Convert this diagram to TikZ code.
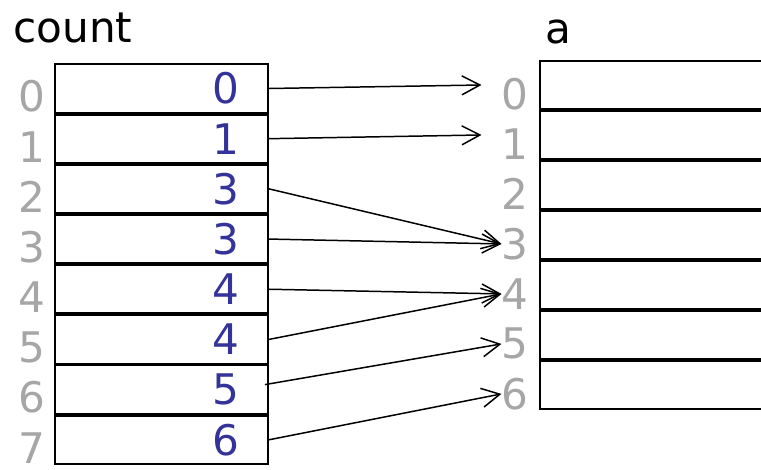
\documentclass[tikz,border=0pt]{standalone}
\usepackage{fontspec}
\setmainfont{DejaVu Sans}
\usetikzlibrary{positioning,arrows.meta}

\definecolor{idxgray}{RGB}{166,166,166}
\definecolor{valblue}{RGB}{51,51,153}

\tikzset{
  cell/.style={draw, line width=1.1pt, minimum width=4.26cm, minimum height=0.965cm,
    text width=3.1cm, inner xsep=0.58cm, inner ysep=0pt, align=right,
    text=valblue, font=\fontsize{24}{29}\selectfont},
  slot/.style={draw, line width=1.1pt, minimum width=6cm, minimum height=0.961cm, inner sep=0pt},
  idx/.style={inner sep=0pt, text=idxgray, font=\fontsize{24}{29}\selectfont},
  title/.style={inner sep=0pt, font=\fontsize{24}{29}\selectfont},
  >={Straight Barb[length=0.36cm,width=0.38cm]},
}

\begin{document}
\begin{tikzpicture}

            \clip (0,0) rectangle (15.22,-9.38);

            % count array
            \node[cell] (c0) at (3.23,-1.77) {0};
            \node[cell] (c1) [below=0pt of c0] {1};
            \node[cell] (c2) [below=0pt of c1] {3};
            \node[cell] (c3) [below=0pt of c2] {3};
            \node[cell] (c4) [below=0pt of c3] {4};
            \node[cell] (c5) [below=0pt of c4] {4};
            \node[cell] (c6) [below=0pt of c5] {5};
            \node[cell] (c7) [below=0pt of c6] {6};

            % a array
            \node[slot, anchor=north west] (a0) at (10.78,-1.2) {};
            \node[slot] (a1) [below=0pt of a0] {};
            \node[slot] (a2) [below=0pt of a1] {};
            \node[slot] (a3) [below=0pt of a2] {};
            \node[slot] (a4) [below=0pt of a3] {};
            \node[slot] (a5) [below=0pt of a4] {};
            \node[slot] (a6) [below=0pt of a5] {};

            % Titles
            \node[title, anchor=base west] (tcount) at ([shift={(-0.82cm,0.42cm)}]c0.north west) {count};
            \node[title, anchor=base west] (ta) at ([shift={(0.13cm,0.34cm)}]a0.north west) {a};

            % Indices of count
            \node[idx] (i0) [left=0.17cm of c0, yshift=-0.16cm] {0};
            \node[idx] (i1) [left=0.17cm of c1, yshift=-0.16cm] {1};
            \node[idx] (i2) [left=0.17cm of c2, yshift=-0.16cm] {2};
            \node[idx] (i3) [left=0.17cm of c3, yshift=-0.16cm] {3};
            \node[idx] (i4) [left=0.17cm of c4, yshift=-0.16cm] {4};
            \node[idx] (i5) [left=0.17cm of c5, yshift=-0.16cm] {5};
            \node[idx] (i6) [left=0.17cm of c6, yshift=-0.16cm] {6};
            \node[idx] (i7) [left=0.17cm of c7, yshift=-0.16cm] {7};

            % Indices of a
            \node[idx] (j0) [left=0.2cm of a0, yshift=-0.18cm] {0};
            \node[idx] (j1) [left=0.2cm of a1, yshift=-0.18cm] {1};
            \node[idx] (j2) [left=0.2cm of a2, yshift=-0.18cm] {2};
            \node[idx] (j3) [left=0.2cm of a3, yshift=-0.18cm] {3};
            \node[idx] (j4) [left=0.2cm of a4, yshift=-0.18cm] {4};
            \node[idx] (j5) [left=0.2cm of a5, yshift=-0.18cm] {5};
            \node[idx] (j6) [left=0.2cm of a6, yshift=-0.18cm] {6};

            % Arrows count -> a
            \draw[->, line width=0.85pt] (c0.east) -- ([xshift=-0.4cm,yshift=0.18cm]j0.west);
            \draw[->, line width=0.85pt] (c1.east) -- ([xshift=-0.4cm,yshift=0.18cm]j1.west);
            \draw[->, line width=0.85pt] (c2.east) -- (j3.west);
            \draw[->, line width=0.85pt] (c3.east) -- (j3.west);
            \draw[->, line width=0.85pt] (c4.east) -- (j4.west);
            \draw[->, line width=0.85pt] (c5.east) -- (j4.west);
            \draw[->, line width=0.85pt] ([xshift=-0.08cm,yshift=0.1cm]c6.east) -- (j5.west);
            \draw[->, line width=0.85pt] (c7.east) -- (j6.west);

            \end{tikzpicture}
\end{document}
